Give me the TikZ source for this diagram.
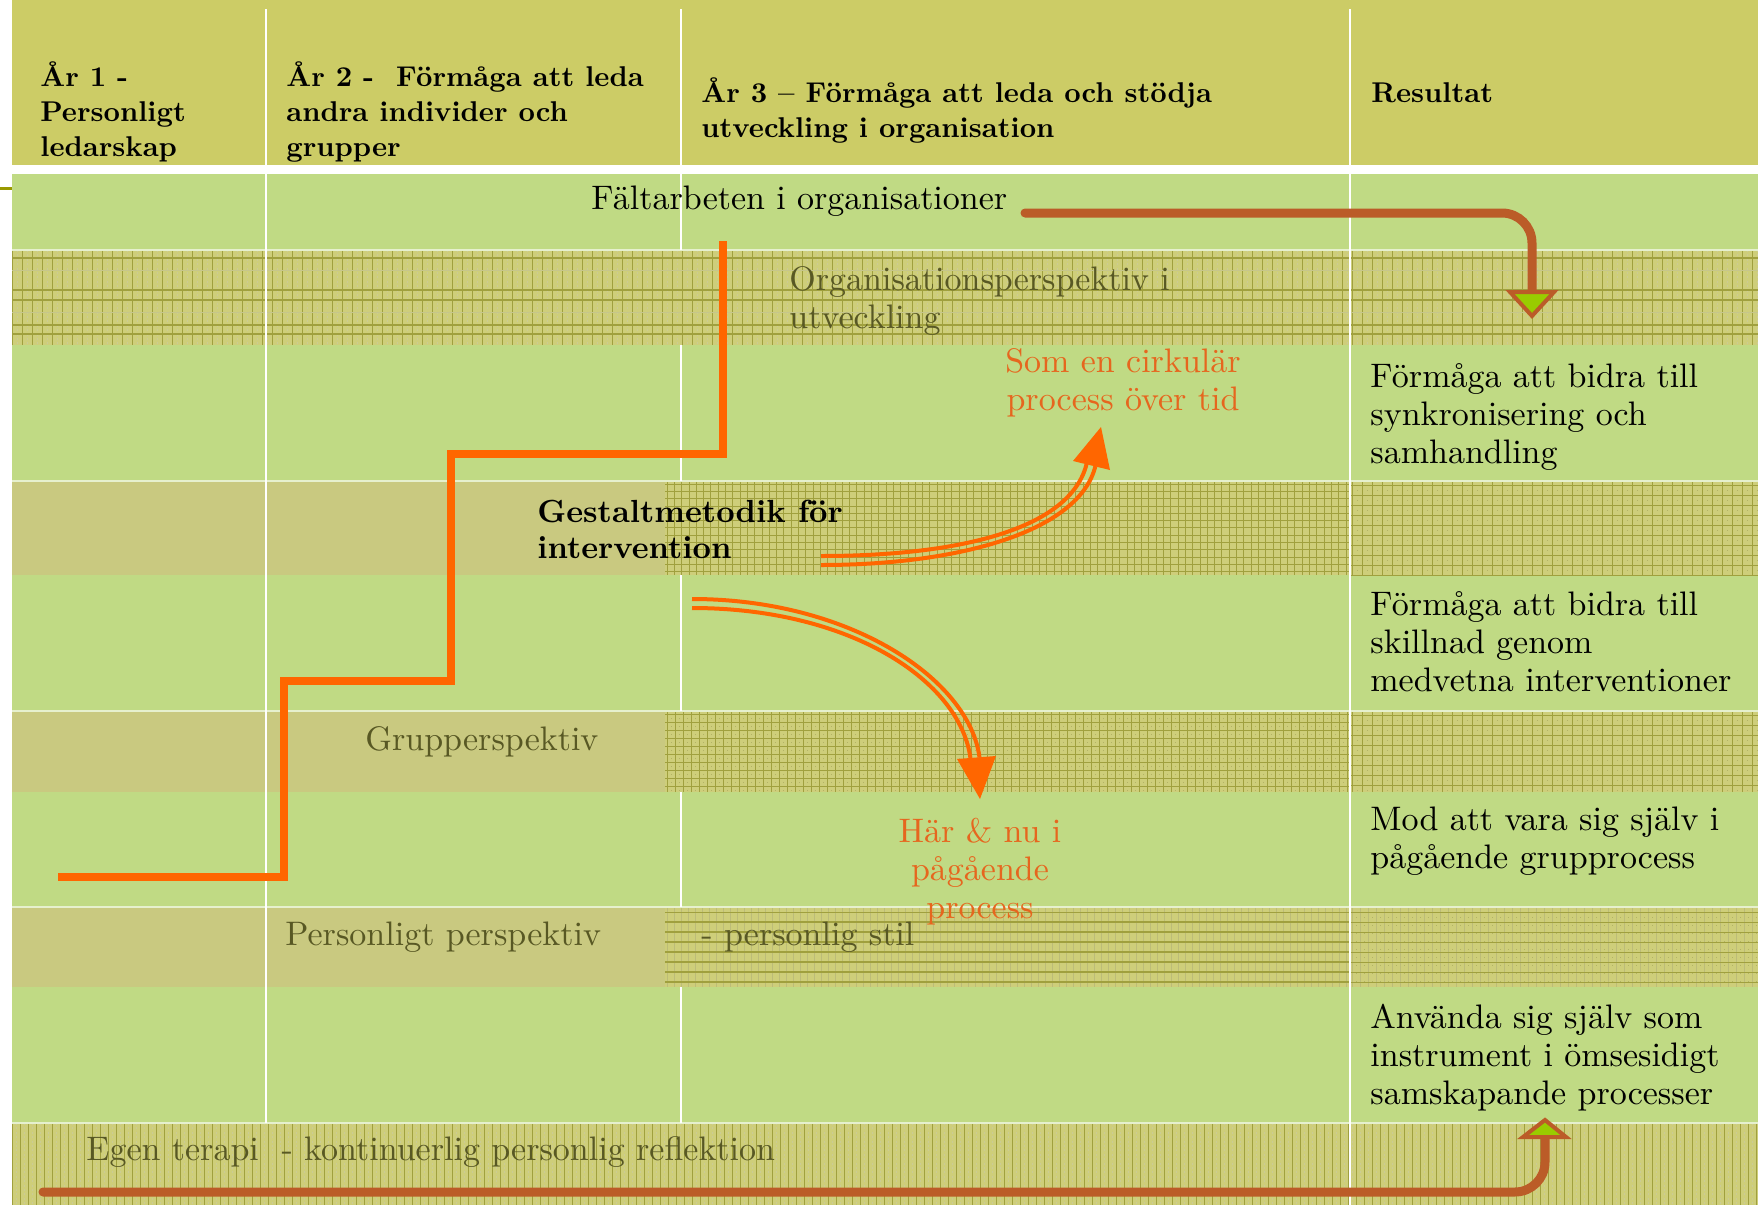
\documentclass[tikz,border=0pt]{standalone}
\usepackage{fontspec}
\setmainfont{lmroman10-regular.otf}[BoldFont=lmroman10-bold.otf]
\definecolor{cHdr}{RGB}{204,204,102}
\definecolor{cGrn}{RGB}{192,218,132}
\definecolor{cTan}{RGB}{201,201,128}
\definecolor{cHb}{RGB}{206,206,122}
\definecolor{cHl}{RGB}{160,160,62}
\definecolor{cBrn}{RGB}{187,92,40}
\definecolor{cOrg}{RGB}{255,102,0}
\definecolor{cOtx}{RGB}{230,102,30}
\definecolor{cOlv}{RGB}{88,88,36}
\definecolor{cLime}{RGB}{153,204,0}
\definecolor{cTick}{RGB}{153,153,0}
\newcommand\hatchV[6]{%
  \begin{scope}
    \clip (#1,#2) rectangle (#3,#4);
    \pgfmathsetmacro\hatchVnext{#1+#5}%
    \foreach \hx in {#1,\hatchVnext,...,#3}{\draw[#6] (\hx,#2) -- (\hx,#4);}
  \end{scope}}
\newcommand\hatchH[6]{%
  \begin{scope}
    \clip (#1,#2) rectangle (#3,#4);
    \pgfmathsetmacro\hatchHnext{#2+#5}%
    \foreach \hy in {#2,\hatchHnext,...,#4}{\draw[#6] (#1,\hy) -- (#3,\hy);}
  \end{scope}}
\newcommand\hatchD[6]{%
  \begin{scope}
    \clip (#1,#2) rectangle (#3,#4);
    \pgfmathsetmacro\hatchDx{#1+#5}%
    \pgfmathsetmacro\hatchDy{#2+#5}%
    \foreach \hx in {#1,\hatchDx,...,#3}{\foreach \hy in {#2,\hatchDy,...,#4}{\fill[#6] (\hx,\hy) rectangle ++(1.4,1.4);}}
  \end{scope}}
\begin{document}
\begin{tikzpicture}[x=0.5pt,y=-0.5pt,
  txt/.style={anchor=base west,inner sep=0pt,align=left,font=\fontsize{17}{19}\selectfont},
  hdtxt/.style={anchor=base west,inner sep=0pt,align=left,font=\fontsize{14.3}{17.5}\selectfont\bfseries},
  otxt/.style={anchor=base,inner sep=0pt,align=center,text=cOtx,font=\fontsize{17}{19}\selectfont},
  colline/.style={white,line width=1.3pt},
  bandtop/.style={white!60!cGrn,line width=0.6pt},
  vl/.style={cHl,line width=0.45pt},
  vlf/.style={cHl!55,line width=0.3pt,dash pattern=on 1pt off 1.2pt},
  gl/.style={cHl,line width=0.35pt},
  dt/.style={cHl!80},
  stair/.style={cOrg,line width=4pt},
  dbl/.style={cOrg,line width=2pt},
  brarrow/.style={cBrn,line width=4.5pt,rounded corners=15pt,line cap=round},
  headst/.style={fill=cLime,draw=cBrn,line width=2pt}]
\useasboundingbox (0,0) rectangle (1758,1205);
\fill[white] (0,0) rectangle (1758,1205);
% header and body
\fill[cHdr] (12,0) rectangle (1758,165);
\fill[cGrn] (12,174) rectangle (1758,1205);
\draw[cTick,line width=1.5pt] (0,188) -- (12,188);
% Organisation band
\fill[cHb] (12,250) rectangle (1758,345);
\hatchV{12}{250}{1758}{345}{10}{vl}
\hatchV{17}{250}{1758}{345}{10}{vlf}
\foreach \hy in {258,290,300,325,334}{\draw[cHl,line width=0.6pt] (12,\hy) -- (1758,\hy);}
\foreach \hy in {270,312}{\draw[cHl!60,line width=0.4pt] (12,\hy) -- (1758,\hy);}
% Gestalt band
\fill[cTan] (12,481) rectangle (665,575);
\fill[cHb] (665,481) rectangle (1758,575);
\hatchV{667}{481}{1350}{575}{7.3}{gl}
\hatchH{665}{484}{1350}{575}{7.3}{gl}
\hatchV{1352}{481}{1758}{575}{10}{gl}
\hatchH{1350}{485}{1758}{575}{10}{gl}
\hatchD{1357}{490}{1758}{575}{10}{dt}
% Grupp band
\fill[cTan] (12,711) rectangle (665,792);
\fill[cHb] (665,711) rectangle (1758,792);
\hatchV{667}{711}{1350}{792}{8}{gl}
\hatchH{665}{714}{1350}{792}{8}{gl}
\hatchD{671}{718}{1350}{792}{8}{dt}
\hatchV{1352}{711}{1758}{792}{10}{gl}
\hatchH{1350}{715}{1758}{792}{10}{gl}
\hatchD{1357}{720}{1758}{792}{10}{dt}
% Personligt band
\fill[cTan] (12,907) rectangle (665,987);
\fill[cHb] (665,907) rectangle (1758,987);
\hatchV{667}{907}{1350}{987}{7}{cHl!70,line width=0.3pt}
\hatchH{665}{912}{1350}{987}{10}{cHl,line width=0.6pt}
\hatchV{1352}{907}{1758}{987}{8}{cHl!70,line width=0.3pt}
\hatchH{1350}{912}{1758}{987}{10}{cHl,line width=0.5pt}
\hatchD{1356}{917}{1758}{987}{8}{dt}
% Egen terapi band
\fill[cHb] (12,1123) rectangle (1758,1205);
\hatchV{12}{1123}{1758}{1205}{8}{vl}
\hatchV{16}{1123}{1758}{1205}{8}{vlf}
% band top edges
\foreach \hy in {250,481,711,907,1123}{\draw[bandtop] (12,\hy) -- (1758,\hy);}
% column lines
\draw[colline] (266,9) -- (266,165);
\draw[colline] (681,9) -- (681,165);
\draw[colline] (1350,9) -- (1350,165);
\draw[colline] (266,174) -- (266,1123);
\draw[colline] (1350,174) -- (1350,1205);
\draw[colline] (681,174) -- (681,250);
\draw[colline] (681,345) -- (681,481);
\draw[colline] (681,575) -- (681,711);
\draw[colline] (681,792) -- (681,907);
\draw[colline] (681,987) -- (681,1123);
% header texts (anchor = baseline of the last line)
\node[hdtxt] (h1) at (40,156) {År 1 -\\Personligt\\ledarskap};
\node[hdtxt] (h2) at (286,156) {År 2 -~ Förmåga att leda\\andra individer och\\grupper};
\node[hdtxt] (h3) at (701,137) {År 3 – Förmåga att leda och stödja\\utveckling i organisation};
\node[hdtxt] (h4) at (1371,102) {Resultat};
% body texts
\node[txt] (falt) at (591,209) {Fältarbeten i organisationer};
\node[txt,text=cOlv] (orgp) at (789,328) {Organisationsperspektiv i\\utveckling};
\node[txt,font=\fontsize{16}{18}\selectfont\bfseries] (gest) at (537,558) {Gestaltmetodik för\\intervention};
\node[otxt] (cirk) at (1123,410) {Som en cirkulär\\process över tid};
\node[txt] (res1) at (1370,463) {Förmåga att bidra till\\synkronisering och\\samhandling};
\node[txt] (res2) at (1370,691) {Förmåga att bidra till\\skillnad genom\\medvetna interventioner};
\node[txt,text=cOlv] (grp) at (365,750) {Grupperspektiv};
\node[otxt] (har) at (980,918) {Här \& nu i\\pågående\\process};
\node[txt] (res3) at (1370,868) {Mod att vara sig själv i\\pågående grupprocess};
\node[txt,text=cOlv] (pers) at (285,945) {Personligt perspektiv};
\node[txt,text=cOlv] (stil) at (701,945) {- personlig stil};
\node[txt] (res4) at (1370,1104) {Använda sig själv som\\instrument i ömsesidigt\\samskapande processer};
\node[txt,text=cOlv] (egen) at (86,1160) {Egen terapi~ - kontinuerlig personlig reflektion};
% stair line
\coordinate (s0) at (723,241);
\coordinate (s1) at (723,454);
\coordinate (s2) at (451,454);
\coordinate (s3) at (451,681);
\coordinate (s4) at (284,681);
\coordinate (s5) at (284,877);
\coordinate (s6) at (58,877);
\draw[stair] (s0) -- (s1) -- (s2) -- (s3) -- (s4) -- (s5) -- (s6);
% double arrow 1 (up)
\coordinate (a1s) at (821,556);
\coordinate (a1e) at (1086.6,463.9);
\coordinate (b1s) at (821,565);
\coordinate (b1e) at (1095.4,466.1);
\draw[dbl] (a1s) .. controls (960,556) and (1070.6,528.9) .. (a1e);
\draw[dbl] (b1s) .. controls (960,565) and (1079.4,531.1) .. (b1e);
\coordinate (t1) at (1101,427);
\fill[cOrg] (1073,461) -- (t1) -- (1110,470) -- cycle;
% double arrow 2 (down)
\coordinate (a2s) at (692,599);
\coordinate (a2e) at (979.5,757.4);
\coordinate (b2s) at (692,608);
\coordinate (b2e) at (970.5,758.6);
\draw[dbl] (a2s) .. controls (850,599) and (969.5,679.4) .. (a2e);
\draw[dbl] (b2s) .. controls (850,608) and (960.5,680.6) .. (b2e);
\coordinate (t2) at (980,799);
\fill[cOrg] (957,759) -- (t2) -- (996,756) -- cycle;
% brown arrows
\coordinate (ba0) at (1025,213);
\coordinate (ba1) at (1532,213);
\coordinate (ba2) at (1532,293);
\draw[brarrow] (ba0) -- (ba1) -- (ba2);
\filldraw[headst] (1510,292) -- (1554,292) -- (1532,316) -- cycle;
\coordinate (bb0) at (43,1192);
\coordinate (bb1) at (1545,1192);
\coordinate (bb2) at (1545,1138);
\draw[brarrow] (bb0) -- (bb1) -- (bb2);
\filldraw[headst] (1523,1137) -- (1566,1137) -- (1545,1120) -- cycle;
\end{tikzpicture}
\end{document}
